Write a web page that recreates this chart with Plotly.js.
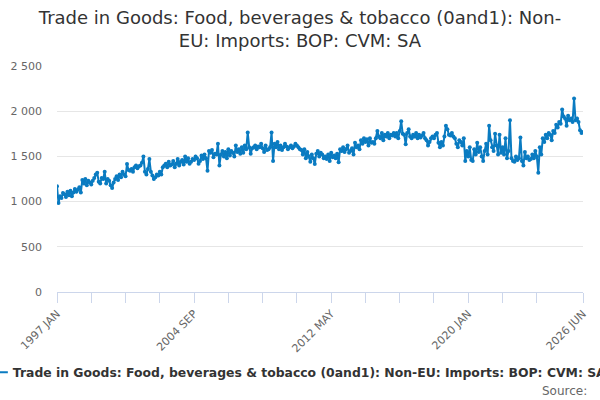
<!DOCTYPE html>
<html>
<head>
<meta charset="utf-8">
<script src="https://cdn.plot.ly/plotly-3.0.1.min.js"></script>
<style>html,body{margin:0;padding:0;background:#fff;}#chart{width:600px;height:400px;}</style>
</head>
<body>
<div id="chart"></div>
<script>
var chartTitle = "Trade in Goods: Food, beverages & tobacco (0and1): Non-<br>EU: Imports: BOP: CVM: SA";
var seriesName = "Trade in Goods: Food, beverages & tobacco (0and1): Non-EU: Imports: BOP: CVM: SA";
var monthNames = ["JAN","FEB","MAR","APR","MAY","JUN","JUL","AUG","SEP","OCT","NOV","DEC"];
var years = [1997,1998,1999,2000,2001,2002,2003,2004,2005,2006,2007,2008,2009,2010,2011,2012,2013,2014,2015,2016,2017,2018,2019,2020,2021,2022,2023,2024,2025,2026];
var v1997 = [1170, 985, 1060, 1040, 1095, 1080, 1050, 1110, 1070, 1120, 1060, 1100];
var v1998 = [1140, 1110, 1130, 1160, 1100, 1240, 1200, 1250, 1180, 1230, 1210, 1190];
var v1999 = [1230, 1260, 1300, 1320, 1220, 1200, 1260, 1250, 1330, 1200, 1250, 1230];
var v2000 = [1180, 1150, 1210, 1250, 1280, 1240, 1300, 1270, 1330, 1300, 1280, 1415];
var v2001 = [1350, 1340, 1360, 1330, 1380, 1400, 1370, 1390, 1400, 1430, 1500, 1330];
var v2002 = [1300, 1360, 1470, 1330, 1290, 1250, 1270, 1300, 1290, 1330, 1300, 1380];
var v2003 = [1400, 1420, 1380, 1440, 1400, 1410, 1450, 1380, 1420, 1470, 1400, 1440];
var v2004 = [1460, 1410, 1500, 1440, 1480, 1420, 1440, 1470, 1460, 1500, 1480, 1420];
var v2005 = [1450, 1510, 1470, 1520, 1480, 1340, 1560, 1540, 1570, 1490, 1530, 1520];
var v2006 = [1640, 1400, 1520, 1560, 1500, 1550, 1480, 1580, 1510, 1560, 1540, 1500];
var v2007 = [1620, 1550, 1580, 1530, 1600, 1540, 1620, 1580, 1765, 1600, 1530, 1590];
var v2008 = [1600, 1620, 1580, 1610, 1600, 1640, 1590, 1550, 1620, 1570, 1580, 1600];
var v2009 = [1765, 1450, 1640, 1600, 1660, 1580, 1620, 1570, 1600, 1640, 1610, 1580];
var v2010 = [1600, 1620, 1590, 1610, 1640, 1620, 1600, 1580, 1570, 1520, 1580, 1480];
var v2011 = [1550, 1500, 1440, 1520, 1480, 1415, 1530, 1560, 1500, 1540, 1520, 1480];
var v2012 = [1500, 1470, 1520, 1450, 1540, 1490, 1510, 1480, 1530, 1435, 1580, 1560];
var v2013 = [1600, 1550, 1580, 1620, 1540, 1560, 1590, 1520, 1650, 1600, 1620, 1580];
var v2014 = [1680, 1640, 1700, 1660, 1690, 1620, 1700, 1650, 1660, 1640, 1700, 1780];
var v2015 = [1720, 1700, 1760, 1680, 1740, 1720, 1760, 1700, 1740, 1730, 1760, 1720];
var v2016 = [1760, 1700, 1780, 1890, 1750, 1740, 1635, 1760, 1800, 1720, 1700, 1740];
var v2017 = [1720, 1760, 1700, 1740, 1710, 1730, 1760, 1700, 1680, 1620, 1660, 1700];
var v2018 = [1720, 1700, 1740, 1760, 1650, 1600, 1660, 1620, 1720, 1840, 1800, 1740];
var v2019 = [1730, 1760, 1720, 1700, 1640, 1600, 1680, 1660, 1620, 1700, 1450, 1560];
var v2020 = [1500, 1600, 1460, 1450, 1580, 1520, 1650, 1550, 1600, 1500, 1450, 1560];
var v2021 = [1640, 1520, 1840, 1680, 1600, 1560, 1750, 1620, 1520, 1740, 1540, 1600];
var v2022 = [1520, 1700, 1480, 1560, 1900, 1480, 1450, 1440, 1500, 1460, 1480, 1710];
var v2023 = [1450, 1400, 1550, 1480, 1500, 1460, 1470, 1520, 1480, 1560, 1500, 1320];
var v2024 = [1600, 1520, 1700, 1660, 1740, 1700, 1760, 1740, 1680, 1780, 1760, 1850];
var v2025 = [1820, 1880, 1860, 2020, 1940, 1920, 1840, 1950, 1900, 1920, 1880, 2140];
var v2026 = [1900, 1920, 1880, 1790, 1760, 1770];
var yearValues = [v1997,v1998,v1999,v2000,v2001,v2002,v2003,v2004,v2005,v2006,v2007,v2008,v2009,v2010,v2011,v2012,v2013,v2014,v2015,v2016,v2017,v2018,v2019,v2020,v2021,v2022,v2023,v2024,v2025,v2026];
var labelledTicks = ["1997 JAN","2004 SEP","2012 MAY","2020 JAN","2026 JUN"];

var cats = [], vals = [];
for (var k = 0; k < years.length; k++) {
  for (var m = 0; m < yearValues[k].length; m++) {
    cats.push(years[k] + " " + monthNames[m]);
    vals.push(yearValues[k][m]);
  }
}
var tickvals = [], ticktext = [];
for (var t = 0; t < cats.length - 23; t += 23) {
  tickvals.push(cats[t]);
  ticktext.push(labelledTicks.indexOf(cats[t]) >= 0 ? cats[t] : "");
}
tickvals.push(cats[cats.length - 1]);
ticktext.push(cats[cats.length - 1]);

var fontFam = "DejaVu Sans, sans-serif";
var trace = {
  x: cats, y: vals, type: "scatter", mode: "lines+markers", name: seriesName,
  line: {color: "#0a7bc1", width: 2},
  marker: {color: "#0a7bc1", size: 4}
};
var layout = {
  width: 600, height: 400,
  paper_bgcolor: "#ffffff", plot_bgcolor: "#ffffff",
  separators: ". ",
  font: {family: fontFam, color: "#666666", size: 11},
  title: {text: chartTitle, font: {family: fontFam, size: 18, color: "#333333"}, x: 0.5, xanchor: "center", xref: "container", y: 0.94, yanchor: "top", yref: "container"},
  margin: {l: 57, r: 17, t: 66, b: 108, autoexpand: false},
  xaxis: {
    type: "category", range: [0, cats.length - 1], autorange: false,
    tickmode: "array", tickvals: tickvals, ticktext: ticktext,
    tickangle: -45, ticks: "outside", ticklen: 10, tickcolor: "#ccd6eb", tickwidth: 1,
    showline: true, linecolor: "#ccd6eb", linewidth: 1, showgrid: false, zeroline: false,
    tickfont: {family: fontFam, size: 11, color: "#666666"}
  },
  yaxis: {
    range: [0, 2500], autorange: false, tickvals: [0, 500, 1000, 1500, 2000, 2500],
    tickformat: ",d", showgrid: true, gridcolor: "#e6e6e6", gridwidth: 1,
    zeroline: false, showline: false, ticks: "", ticklabelstandoff: 14,
    tickfont: {family: fontFam, size: 11, color: "#666666"}
  },
  showlegend: true,
  legend: {orientation: "h", x: -0.16, xanchor: "left", y: -0.357, yanchor: "middle", yref: "paper",
    font: {family: fontFam, size: 12.4, color: "#333333", weight: "bold"}, bgcolor: "rgba(0,0,0,0)"},
  annotations: [{text: "Source:", xref: "paper", yref: "paper", x: 1.011, xanchor: "right", y: -0.44, yanchor: "middle", showarrow: false, font: {family: fontFam, size: 12, color: "#666666"}}]
};
Plotly.newPlot("chart", [trace], layout, {displayModeBar: false, staticPlot: true});
</script>
</body>
</html>
